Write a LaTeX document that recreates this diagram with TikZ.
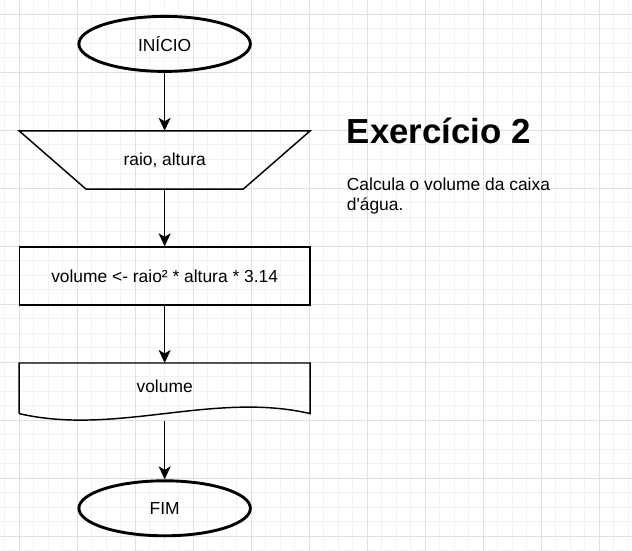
\documentclass[tikz,border=0pt]{standalone}
\usepackage{fontspec}
\setmainfont{Liberation Sans}
\usetikzlibrary{positioning, arrows.meta, shapes.geometric, calc}
\definecolor{gridminor}{HTML}{F2F2F2}
\definecolor{gridmajor}{HTML}{E0E0E0}
\newcommand{\boxfont}{\fontsize{17.4}{20}\selectfont}
\tikzset{
  terminal/.style = {ellipse, draw=black, line width=2.9pt, minimum width=171.5pt,
                     minimum height=55pt, inner sep=0pt, font=\boxfont},
  inbox/.style    = {rectangle, minimum width=290.7pt, minimum height=58pt,
                     inner sep=0pt, font=\boxfont},
  procbox/.style  = {rectangle, draw=black, line width=1.45pt, minimum width=290.7pt,
                     minimum height=58pt, inner sep=0pt, font=\boxfont},
  docbox/.style   = {rectangle, minimum width=290.7pt, minimum height=58pt,
                     inner sep=0pt, text depth=12pt, font=\boxfont},
  outline/.style  = {draw=black, line width=1.45pt, line join=miter},
  flow/.style     = {line width=1.45pt, -{Stealth[length=13pt, width=12pt, inset=3.5pt]}},
  titletext/.style = {font=\fontsize{34.8}{40}\selectfont\bfseries, inner sep=0pt},
  notetext/.style  = {font=\boxfont, align=left, inner sep=0pt},
}

\begin{document}
\begin{tikzpicture}[x=1pt, y=1pt, node distance=116.1pt, on grid]

% page and background grid
\useasboundingbox (0,0) rectangle (632,-551);
\fill[white] (0,0) rectangle (632,-551);
\begin{scope}[shift={(19.3,-14.3)}]
  \draw[gridminor, line width=1pt, step=14.5pt] (-19.3,14.3) grid (612.7,-536.7);
  \draw[gridmajor, line width=1pt, step=58pt] (-19.3,14.3) grid (612.7,-536.7);
\end{scope}

% flowchart, top to bottom
\node (start) [terminal] at (164.65,-43.9) {INÍCIO};
\node (input) [inbox, below=of start]   {raio, altura};
\node (calc)  [procbox, below=of input] {volume <- raio² * altura * 3.14};
\node (out)   [docbox, below=of calc]   {volume};
\node (stop)  [terminal, below=of out]  {FIM};

% manual input: wide top, narrow bottom
\draw[outline] (input.north west) -- (input.north east)
  -- ($(input.south east)+(-67,0)$) -- ($(input.south west)+(67,0)$) -- cycle;

% document shape with wavy bottom
\draw[outline]
  ($(out.south west)+(0,7.8)$) -- (out.north west) -- (out.north east)
  -- ($(out.south east)+(0,7.8)$)
  .. controls ($(out.south east)+(-96.9,30.3)$) and ($(out.south west)+(96.9,-14.7)$)
  .. ($(out.south west)+(0,7.8)$);

% connectors
\draw [flow] (start) -- (input);
\draw [flow] (input) -- (calc);
\draw [flow] (calc) -- (out);
\draw [flow] (out.south) -- (stop);

% exercise heading
\node (title) [titletext, anchor=base west] at (346.7,-143.3) {Exercício 2};
\node (note)  [notetext, anchor=base west] at (346.7,-210) {Calcula o volume da caixa\\d\textquotesingle água.};

\end{tikzpicture}
\end{document}
